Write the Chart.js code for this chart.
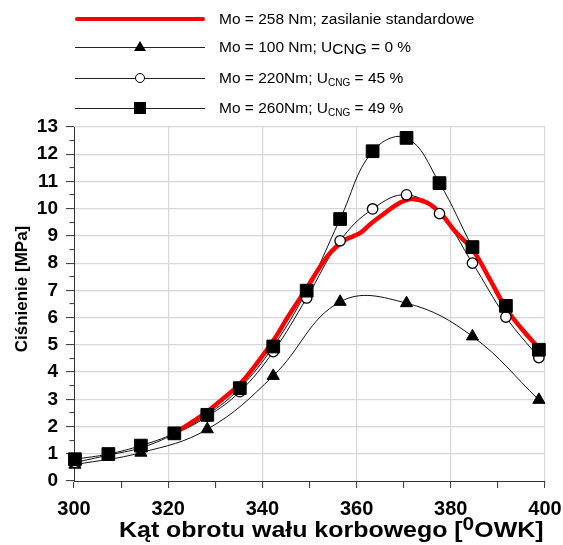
<!DOCTYPE html>
<html>
<head>
<meta charset="utf-8">
<script src="https://cdn.jsdelivr.net/npm/chart.js@4.4.1/dist/chart.umd.min.js"></script>
<style>
  html, body { margin: 0; padding: 0; background: #fff; }
  #wrap { position: relative; width: 563px; height: 545px; font-family: "Liberation Sans", Arial, sans-serif; color: #000; }
  #chart { position: absolute; left: 0; top: 0; }
  .row { position: absolute; left: 0; width: 563px; height: 0; }
  .row .ln { position: absolute; left: 75px; width: 130px; top: -0.5px; border-top: 1px solid #222; }
  .row .ln.red { top: -2px; border-top: 4px solid #ff0000; border-radius: 2px; }
  .row .txt { position: absolute; left: 219px; top: -10px; font-size: 15.5px; line-height: 20px; white-space: nowrap; }
  .mk { position: absolute; }
  .mk.tri { left: 134px; top: -6px; width: 0; height: 0; border-left: 6px solid transparent; border-right: 6px solid transparent; border-bottom: 10px solid #000; }
  .mk.circ { left: 135px; top: -5px; width: 8px; height: 8px; border: 1.3px solid #000; border-radius: 50%; background: #fff; }
  .mk.sq { left: 134px; top: -6px; width: 12px; height: 12px; background: #000; }
  .cng1 { position: relative; top: 2px; }
  .cng2 { font-size: 10px; position: relative; top: 3px; }
  #xtitle { position: absolute; left: 119px; top: 517px; font-size: 21.5px; font-weight: bold; white-space: nowrap; line-height: 26px; transform: scaleX(1.16); transform-origin: 0 50%; }
  #xtitle .deg { font-size: 18px; position: relative; top: -7px; }
  #ytitle { position: absolute; left: -78px; top: 279px; width: 200px; text-align: center; font-size: 17px; font-weight: bold; line-height: 20px; transform: rotate(-90deg); white-space: nowrap; }
</style>
</head>
<body>
<div id="wrap">
  <canvas id="chart" width="563" height="545"></canvas>

  <div class="row" style="top:19px"><div class="ln red"></div><div class="txt">Mo = 258 Nm; zasilanie standardowe</div></div>
  <div class="row" style="top:47px"><div class="ln"></div><div class="mk tri"></div><div class="txt">Mo = 100 Nm; U<span class="cng1">CNG</span> = 0 %</div></div>
  <div class="row" style="top:78px"><div class="ln"></div><div class="mk circ"></div><div class="txt">Mo = 220Nm; U<span class="cng2">CNG</span> = 45 %</div></div>
  <div class="row" style="top:108px"><div class="ln"></div><div class="mk sq"></div><div class="txt">Mo = 260Nm; U<span class="cng2">CNG</span> = 49 %</div></div>

  <div id="ytitle">Ciśnienie [MPa]</div>
  <div id="xtitle">Kąt obrotu wału korbowego [<span class="deg">0</span>OWK]</div>
</div>

<script>
// kąt obrotu wału [°OWK] dla punktów pomiarowych
const kat = [300.2, 307.3, 314.2, 321.3, 328.3, 335.2, 342.3, 349.4, 356.5, 363.4, 370.6, 377.6, 384.6, 391.7, 398.7];
// Mo = 260 Nm, U_CNG = 49 %
const p260 = [0.80, 0.99, 1.30, 1.75, 2.43, 3.41, 4.94, 6.99, 9.62, 12.11, 12.60, 10.94, 8.59, 6.43, 4.82];
// Mo = 220 Nm, U_CNG = 45 %
const p220 = [0.68, 0.95, 1.22, 1.72, 2.37, 3.28, 4.75, 6.72, 8.82, 9.99, 10.51, 9.82, 8.00, 6.02, 4.53];
// Mo = 100 Nm, U_CNG = 0 % (co drugi punkt)
const kat100 = [300.2, 314.2, 328.3, 342.3, 356.5, 370.6, 384.6, 398.7];
const p100 = [0.60, 1.04, 1.90, 3.86, 6.58, 6.53, 5.31, 2.98];
// Mo = 258 Nm, zasilanie standardowe
const katStd = [321.3, 324.5, 328.3, 331.5, 335.2, 338.5, 342.3, 345.5, 349.4, 352.0, 354.5, 357.5, 360.7, 363.0, 365.7, 369.0, 371.7, 375.0, 378.0, 381.0, 384.6, 388.0, 391.7, 395.0, 398.7];
const pStd = [1.76, 2.10, 2.55, 3.00, 3.56, 4.25, 5.15, 6.05, 7.08, 7.80, 8.40, 8.85, 9.10, 9.45, 9.80, 10.20, 10.36, 10.22, 9.80, 9.15, 8.50, 7.50, 6.35, 5.60, 4.88];

const xTicks = [300, 320, 340, 360, 380, 400];
const yTicks = [0, 1, 2, 3, 4, 5, 6, 7, 8, 9, 10, 11, 12, 13];

function pts(xs, ys) {
  return xs.map((x, i) => ({ x: x, y: ys[i] }));
}

const fontFam = '"Liberation Sans", Arial, sans-serif';

const ctx = document.getElementById('chart').getContext('2d');
new Chart(ctx, {
  type: 'line',
  data: {
    datasets: [
      // znaczniki (na wierzchu)
      { data: pts(kat, p260), showLine: false, pointStyle: 'rect', pointRadius: 9, pointBackgroundColor: '#000', pointBorderColor: '#000', pointBorderWidth: 1, clip: false },
      { data: pts(kat, p220), showLine: false, pointStyle: 'circle', pointRadius: 5.2, pointBackgroundColor: '#fff', pointBorderColor: '#000', pointBorderWidth: 1.3, clip: false },
      { data: pts(kat100, p100), showLine: false, pointStyle: 'triangle', pointRadius: 7, pointBackgroundColor: '#000', pointBorderColor: '#000', pointBorderWidth: 1, clip: false },
      // linia czerwona
      { data: pts(katStd, pStd), borderColor: '#ff0000', borderWidth: 4.5, pointRadius: 0, tension: 0.4, borderCapStyle: 'round', borderJoinStyle: 'round' },
      // linie czarne
      { data: pts(kat, p260), borderColor: '#111', borderWidth: 1, pointRadius: 0, tension: 0.4 },
      { data: pts(kat, p220), borderColor: '#111', borderWidth: 1, pointRadius: 0, tension: 0.4 },
      { data: pts(kat100, p100), borderColor: '#111', borderWidth: 1, pointRadius: 0, tension: 0.4 }
    ]
  },
  options: {
    responsive: false,
    animation: false,
    events: [],
    layout: { padding: { top: 127, right: 18, left: 0, bottom: 0 } },
    plugins: {
      legend: { display: false },
      tooltip: { enabled: false }
    },
    scales: {
      x: {
        type: 'linear',
        min: 300,
        max: 400,
        afterFit: function (scale) {
          scale.height = 64;
          scale.paddingLeft = 0;
          scale.paddingRight = 0;
        },
        afterBuildTicks: function (scale) {
          // co 10 stopni kreska, opis co 20
          const t = [];
          for (let v = 300; v <= 400; v += 10) t.push({ value: v });
          scale.ticks = t;
        },
        ticks: {
          autoSkip: false,
          maxRotation: 0,
          padding: 9,
          color: '#000',
          font: { family: fontFam, size: 20, weight: 'bold' },
          callback: function (v) { return xTicks.includes(v) ? String(v) : ''; }
        },
        grid: {
          color: function (c) {
            const v = c.tick ? c.tick.value : 0;
            return (v > 300 && xTicks.includes(v)) ? '#d7d7d7' : 'rgba(0,0,0,0)';
          },
          lineWidth: 1.2,
          tickColor: '#333',
          tickLength: 7,
          tickWidth: 1
        },
        border: { color: '#333', width: 1 }
      },
      y: {
        min: 0,
        max: 13,
        afterFit: function (scale) {
          scale.width = 74;
          scale.paddingTop = 0;
          scale.paddingBottom = 0;
        },
        afterBuildTicks: function (scale) {
          const t = [];
          for (let v = 0; v <= 13; v += 0.5) t.push({ value: v });
          scale.ticks = t;
        },
        ticks: {
          autoSkip: false,
          padding: 8,
          color: '#000',
          font: { family: fontFam, size: 19, weight: 'bold' },
          callback: function (v) { return yTicks.includes(v) ? String(v) : ''; }
        },
        grid: {
          color: function (c) {
            const v = c.tick ? c.tick.value : 0;
            return (v > 0 && yTicks.includes(v)) ? '#d7d7d7' : 'rgba(0,0,0,0)';
          },
          lineWidth: 1.2,
          tickColor: '#333',
          tickLength: 8,
          tickWidth: 1,
          // krótsze kreski pośrednie
          tickBorderDash: function (c) {
            const v = c.tick ? c.tick.value : 0;
            return yTicks.includes(v) ? [] : [0, 3.5, 5, 10];
          }
        },
        border: { color: '#333', width: 1 }
      }
    }
  }
});
</script>
</body>
</html>
